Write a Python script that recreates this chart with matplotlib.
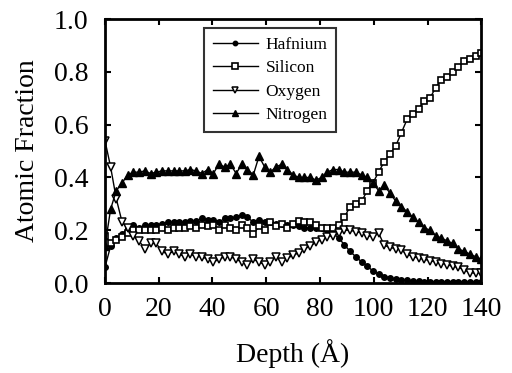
import matplotlib
matplotlib.use("Agg")
import matplotlib.pyplot as plt

# depth grid (Angstrom), 67 points from 0 to 140
depth = [0.0, 2.1, 4.2, 6.4, 8.5, 10.6, 12.7, 14.8, 17.0, 19.1,
         21.2, 23.3, 25.5, 27.6, 29.7, 31.8, 33.9, 36.1, 38.2, 40.3,
         42.4, 44.5, 46.7, 48.8, 50.9, 53.0, 55.2, 57.3, 59.4, 61.5,
         63.6, 65.8, 67.9, 70.0, 72.1, 74.2, 76.4, 78.5, 80.6, 82.7,
         84.8, 87.0, 89.1, 91.2, 93.3, 95.5, 97.6, 99.7, 101.8, 103.9,
         106.1, 108.2, 110.3, 112.4, 114.5, 116.7, 118.8, 120.9, 123.0, 125.2,
         127.3, 129.4, 131.5, 133.6, 135.8, 137.9, 140.0]

hafnium = [0.06, 0.14, 0.17, 0.185, 0.21, 0.22, 0.21, 0.22, 0.22, 0.22,
           0.225, 0.23, 0.23, 0.23, 0.23, 0.235, 0.235, 0.245, 0.24, 0.24,
           0.23, 0.245, 0.245, 0.25, 0.257, 0.25, 0.23, 0.24, 0.23, 0.23,
           0.225, 0.223, 0.22, 0.22, 0.215, 0.21, 0.21, 0.21, 0.21, 0.20,
           0.19, 0.17, 0.145, 0.12, 0.10, 0.08, 0.065, 0.045, 0.035, 0.025,
           0.02, 0.015, 0.012, 0.01, 0.008, 0.007, 0.006, 0.005, 0.005, 0.005,
           0.005, 0.005, 0.005, 0.005, 0.005, 0.005, 0.005]

silicon = [0.18, 0.15, 0.165, 0.175, 0.19, 0.20, 0.20, 0.20, 0.20, 0.20,
           0.21, 0.20, 0.21, 0.21, 0.21, 0.215, 0.21, 0.22, 0.215, 0.22,
           0.20, 0.22, 0.21, 0.20, 0.22, 0.21, 0.185, 0.215, 0.20, 0.23,
           0.215, 0.225, 0.21, 0.225, 0.235, 0.23, 0.23, 0.22, 0.21, 0.21,
           0.21, 0.22, 0.25, 0.29, 0.30, 0.31, 0.35, 0.38, 0.42, 0.46,
           0.49, 0.52, 0.57, 0.62, 0.64, 0.66, 0.69, 0.70, 0.74, 0.77,
           0.78, 0.80, 0.82, 0.84, 0.85, 0.86, 0.87]

oxygen = [0.54, 0.44, 0.32, 0.23, 0.21, 0.18, 0.16, 0.13, 0.15, 0.15,
          0.12, 0.11, 0.12, 0.11, 0.10, 0.11, 0.10, 0.10, 0.09, 0.08,
          0.09, 0.10, 0.10, 0.09, 0.08, 0.07, 0.09, 0.08, 0.07, 0.08,
          0.10, 0.08, 0.095, 0.105, 0.115, 0.13, 0.14, 0.155, 0.165, 0.175,
          0.18, 0.19, 0.20, 0.20, 0.195, 0.19, 0.18, 0.175, 0.19, 0.143,
          0.135, 0.13, 0.125, 0.11, 0.10, 0.095, 0.09, 0.085, 0.08, 0.074,
          0.07, 0.063, 0.06, 0.05, 0.04, 0.037, 0.04]

nitrogen = [0.14, 0.28, 0.35, 0.38, 0.41, 0.42, 0.42, 0.425, 0.415, 0.42,
            0.425, 0.425, 0.425, 0.425, 0.425, 0.43, 0.425, 0.415, 0.43, 0.415,
            0.45, 0.44, 0.45, 0.415, 0.45, 0.43, 0.41, 0.48, 0.44, 0.42,
            0.44, 0.45, 0.43, 0.41, 0.40, 0.40, 0.40, 0.39, 0.40, 0.42,
            0.43, 0.43, 0.42, 0.42, 0.42, 0.41, 0.40, 0.38, 0.35, 0.37,
            0.34, 0.31, 0.29, 0.27, 0.25, 0.23, 0.21, 0.20, 0.18, 0.17,
            0.16, 0.15, 0.13, 0.12, 0.11, 0.10, 0.09]

plt.rcParams['font.family'] = ['Liberation Serif', 'DejaVu Serif']

fig = plt.figure(figsize=(5.12, 3.73), dpi=100)
ax = fig.add_axes([0.205, 0.241, 0.735, 0.708])

ax.plot(depth, hafnium, color='black', lw=1, marker='o', ms=4, label='Hafnium')
ax.plot(depth, silicon, color='black', lw=1, marker='s', ms=5, mfc='white', mew=1.2, label='Silicon')
ax.plot(depth, oxygen, color='black', lw=1, marker='v', ms=6, mfc='white', mew=1.1, label='Oxygen')
ax.plot(depth, nitrogen, color='black', lw=1, marker='^', ms=5.5, label='Nitrogen')

ax.set_xlim(0, 140)
ax.set_ylim(0, 1.0)
ax.set_xticks([0, 20, 40, 60, 80, 100, 120, 140])
ax.set_yticks([0.0, 0.2, 0.4, 0.6, 0.8, 1.0])
ax.set_yticklabels(['0.0', '0.2', '0.4', '0.6', '0.8', '1.0'])
ax.tick_params(direction='in', length=4, width=1.5, labelsize=20,
               top=True, right=True)
ax.tick_params(axis='x', pad=10)
ax.tick_params(axis='y', pad=12)
for s in ax.spines.values():
    s.set_linewidth(2)

ax.set_xlabel('Depth (Å)', fontsize=20, labelpad=12)
ax.set_ylabel('Atomic Fraction', fontsize=20, labelpad=10)

leg = ax.legend(loc='upper left', bbox_to_anchor=(0.263, 0.966), fontsize=12.5,
                frameon=True, fancybox=False, edgecolor='black', borderaxespad=0,
                handlelength=2.6, handletextpad=0.45, markerscale=0.8,
                borderpad=0.5, labelspacing=0.42)
leg.get_frame().set_linewidth(1.5)

fig.savefig('out.png', dpi=100)
